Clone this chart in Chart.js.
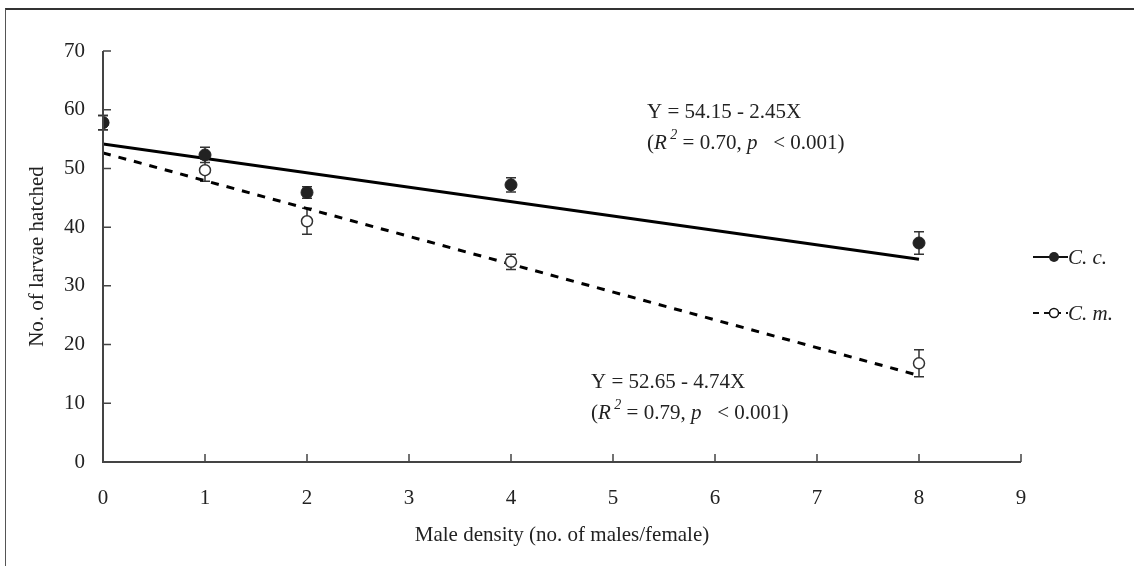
<!DOCTYPE html>
<html>
<head>
<meta charset="utf-8">
<script src="https://cdn.jsdelivr.net/npm/chart.js@4.4.1/dist/chart.umd.min.js"></script>
<style>
  html, body { margin: 0; padding: 0; background: #fff; }
  #wrap { position: relative; width: 1134px; height: 566px; }
  #frame { position: absolute; left: 5px; top: 8px; right: 0; bottom: 0;
           border-top: 2px solid #333; border-left: 1px solid #555; pointer-events: none; }
</style>
</head>
<body>
<div id="wrap">
  <canvas id="chart" width="1134" height="566"></canvas>
  <div id="frame"></div>
</div>
<script>
/* ── 数据 ── */
const density = [0, 1, 2, 4, 8];
const ccMean = [57.8, 52.3, 45.9, 47.2, 37.3];
const ccErr = [1.2, 1.3, 1.0, 1.2, 1.9];
const cmMean = [57.8, 49.7, 41.0, 34.1, 16.8];
const cmErr = [1.2, 1.9, 2.2, 1.3, 2.3];

// 回归线端点
const fitX = [0, 8];
const ccFit = [54.15, 34.55];
const cmFit = [52.65, 14.73];

const xTicks = [0, 1, 2, 3, 4, 5, 6, 7, 8, 9];
const yTicks = [0, 10, 20, 30, 40, 50, 60, 70];

const SERIF = '"Liberation Serif", "Times New Roman", serif';
const INK = '#222';
const AXIS = '#444';
const FS = 21;

const pts = (xs, ys) => xs.map((x, i) => ({ x, y: ys[i] }));

/* ── 误差线 + 坐标轴刻度 ── */
const errorBars = {
    id: 'errorBars',
    beforeDatasetsDraw(chart) {
        const { ctx, scales: { x, y } } = chart;
        const draw = (means, errs) => {
            ctx.save();
            ctx.strokeStyle = '#333';
            ctx.lineWidth = 1.5;
            means.forEach((m, i) => {
                const px = x.getPixelForValue(density[i]);
                const top = y.getPixelForValue(m + errs[i]);
                const bot = y.getPixelForValue(m - errs[i]);
                ctx.beginPath();
                ctx.moveTo(px, top); ctx.lineTo(px, bot);
                ctx.moveTo(px - 5, top); ctx.lineTo(px + 5, top);
                ctx.moveTo(px - 5, bot); ctx.lineTo(px + 5, bot);
                ctx.stroke();
            });
            ctx.restore();
        };
        draw(cmMean, cmErr);
        draw(ccMean, ccErr);
    },
    afterDraw(chart) {
        const { ctx, scales: { x, y } } = chart;
        ctx.save();
        ctx.strokeStyle = AXIS;
        ctx.lineWidth = 2;
        const x0 = x.getPixelForValue(0), y0 = y.getPixelForValue(0);
        ctx.beginPath();
        ctx.moveTo(x0, y.getPixelForValue(70));
        ctx.lineTo(x0, y0);
        ctx.lineTo(x.getPixelForValue(9), y0);
        ctx.stroke();
        ctx.lineWidth = 1.5;
        ctx.beginPath();
        yTicks.forEach(v => {
            const py = y.getPixelForValue(v);
            ctx.moveTo(x0, py); ctx.lineTo(x0 + 8, py);
        });
        xTicks.forEach(v => {
            const px = x.getPixelForValue(v);
            ctx.moveTo(px, y0); ctx.lineTo(px, y0 - 8);
        });
        ctx.stroke();
        ctx.restore();
    }
};

/* ── 方程文字 + 图例 ── */
function eqBlock(ctx, left, top, eq, r2) {
    ctx.fillStyle = INK;
    ctx.textBaseline = 'middle';
    ctx.textAlign = 'left';
    ctx.font = `${FS}px ${SERIF}`;
    ctx.fillText(eq, left, top);
    let cx = left;
    const y2 = top + 31;
    const put = (t, font, dy = 0) => {
        ctx.font = font;
        ctx.fillText(t, cx, y2 + dy);
        cx += ctx.measureText(t).width;
    };
    put('(', `${FS}px ${SERIF}`);
    put('R', `italic ${FS}px ${SERIF}`);
    put(' 2', `italic 14px ${SERIF}`, -8);
    put(` = ${r2}, `, `${FS}px ${SERIF}`);
    put('p', `italic ${FS}px ${SERIF}`);
    put('   < 0.001)', `${FS}px ${SERIF}`);
}

const annotations = {
    id: 'annotations',
    afterDraw(chart) {
        const { ctx } = chart;
        ctx.save();
        eqBlock(ctx, 647, 112, 'Y = 54.15 - 2.45X', '0.70');
        eqBlock(ctx, 591, 382, 'Y = 52.65 - 4.74X', '0.79');

        // 图例
        ctx.strokeStyle = '#111';
        ctx.lineWidth = 2;
        ctx.beginPath();
        ctx.moveTo(1033, 257); ctx.lineTo(1068, 257);
        ctx.stroke();
        ctx.fillStyle = '#222';
        ctx.beginPath(); ctx.arc(1054, 257, 5, 0, Math.PI * 2); ctx.fill();

        ctx.setLineDash([6, 5]);
        ctx.beginPath();
        ctx.moveTo(1033, 313); ctx.lineTo(1068, 313);
        ctx.stroke();
        ctx.setLineDash([]);
        ctx.fillStyle = '#fff';
        ctx.lineWidth = 1.5;
        ctx.beginPath(); ctx.arc(1054, 313, 4.5, 0, Math.PI * 2); ctx.fill(); ctx.stroke();

        ctx.fillStyle = INK;
        ctx.font = `italic ${FS}px ${SERIF}`;
        ctx.textBaseline = 'middle';
        ctx.textAlign = 'left';
        ctx.fillText('C. c.', 1068, 258);
        ctx.fillText('C. m.', 1068, 314);
        ctx.restore();
    }
};

new Chart(document.getElementById('chart').getContext('2d'), {
    type: 'scatter',
    data: {
        datasets: [
            {
                label: 'C. c. fit', type: 'line', data: pts(fitX, ccFit),
                borderColor: '#000', borderWidth: 3, pointRadius: 0, order: 3,
            },
            {
                label: 'C. m. fit', type: 'line', data: pts(fitX, cmFit),
                borderColor: '#000', borderWidth: 3, borderDash: [8, 8], pointRadius: 0, order: 4,
            },
            {
                label: 'C. m.', data: pts(density, cmMean),
                pointRadius: 5.5, pointBackgroundColor: '#fff', pointBorderColor: '#333',
                pointBorderWidth: 1.5, order: 2,
            },
            {
                label: 'C. c.', data: pts(density, ccMean),
                pointRadius: 6, pointBackgroundColor: '#222', pointBorderColor: '#222',
                pointBorderWidth: 1, order: 1,
            },
        ],
    },
    options: {
        responsive: false,
        animation: false,
        layout: { padding: { top: 51, right: 113, left: 0, bottom: 0 } },
        plugins: { legend: { display: false }, tooltip: { enabled: false } },
        scales: {
            x: {
                type: 'linear', min: 0, max: 9,
                afterBuildTicks: s => { s.ticks = xTicks.map(v => ({ value: v })); },
                afterFit: s => { s.height = 104; },
                grid: { display: false, drawTicks: false },
                border: { display: false },
                ticks: { color: INK, padding: 24, font: { family: SERIF, size: FS } },
                title: {
                    display: true, text: 'Male density (no. of males/female)',
                    color: INK, font: { family: SERIF, size: FS }, padding: { top: 4, bottom: 18 },
                },
            },
            y: {
                min: 0, max: 70,
                afterBuildTicks: s => { s.ticks = yTicks.map(v => ({ value: v })); },
                afterFit: s => { s.width = 103; },
                grid: { display: false, drawTicks: false },
                border: { display: false },
                ticks: { color: INK, padding: 18, font: { family: SERIF, size: FS } },
                title: {
                    display: true, text: 'No. of larvae hatched',
                    color: INK, font: { family: SERIF, size: FS }, padding: { top: 25, bottom: 4 },
                },
            },
        },
    },
    plugins: [errorBars, annotations],
});
</script>
</body>
</html>
